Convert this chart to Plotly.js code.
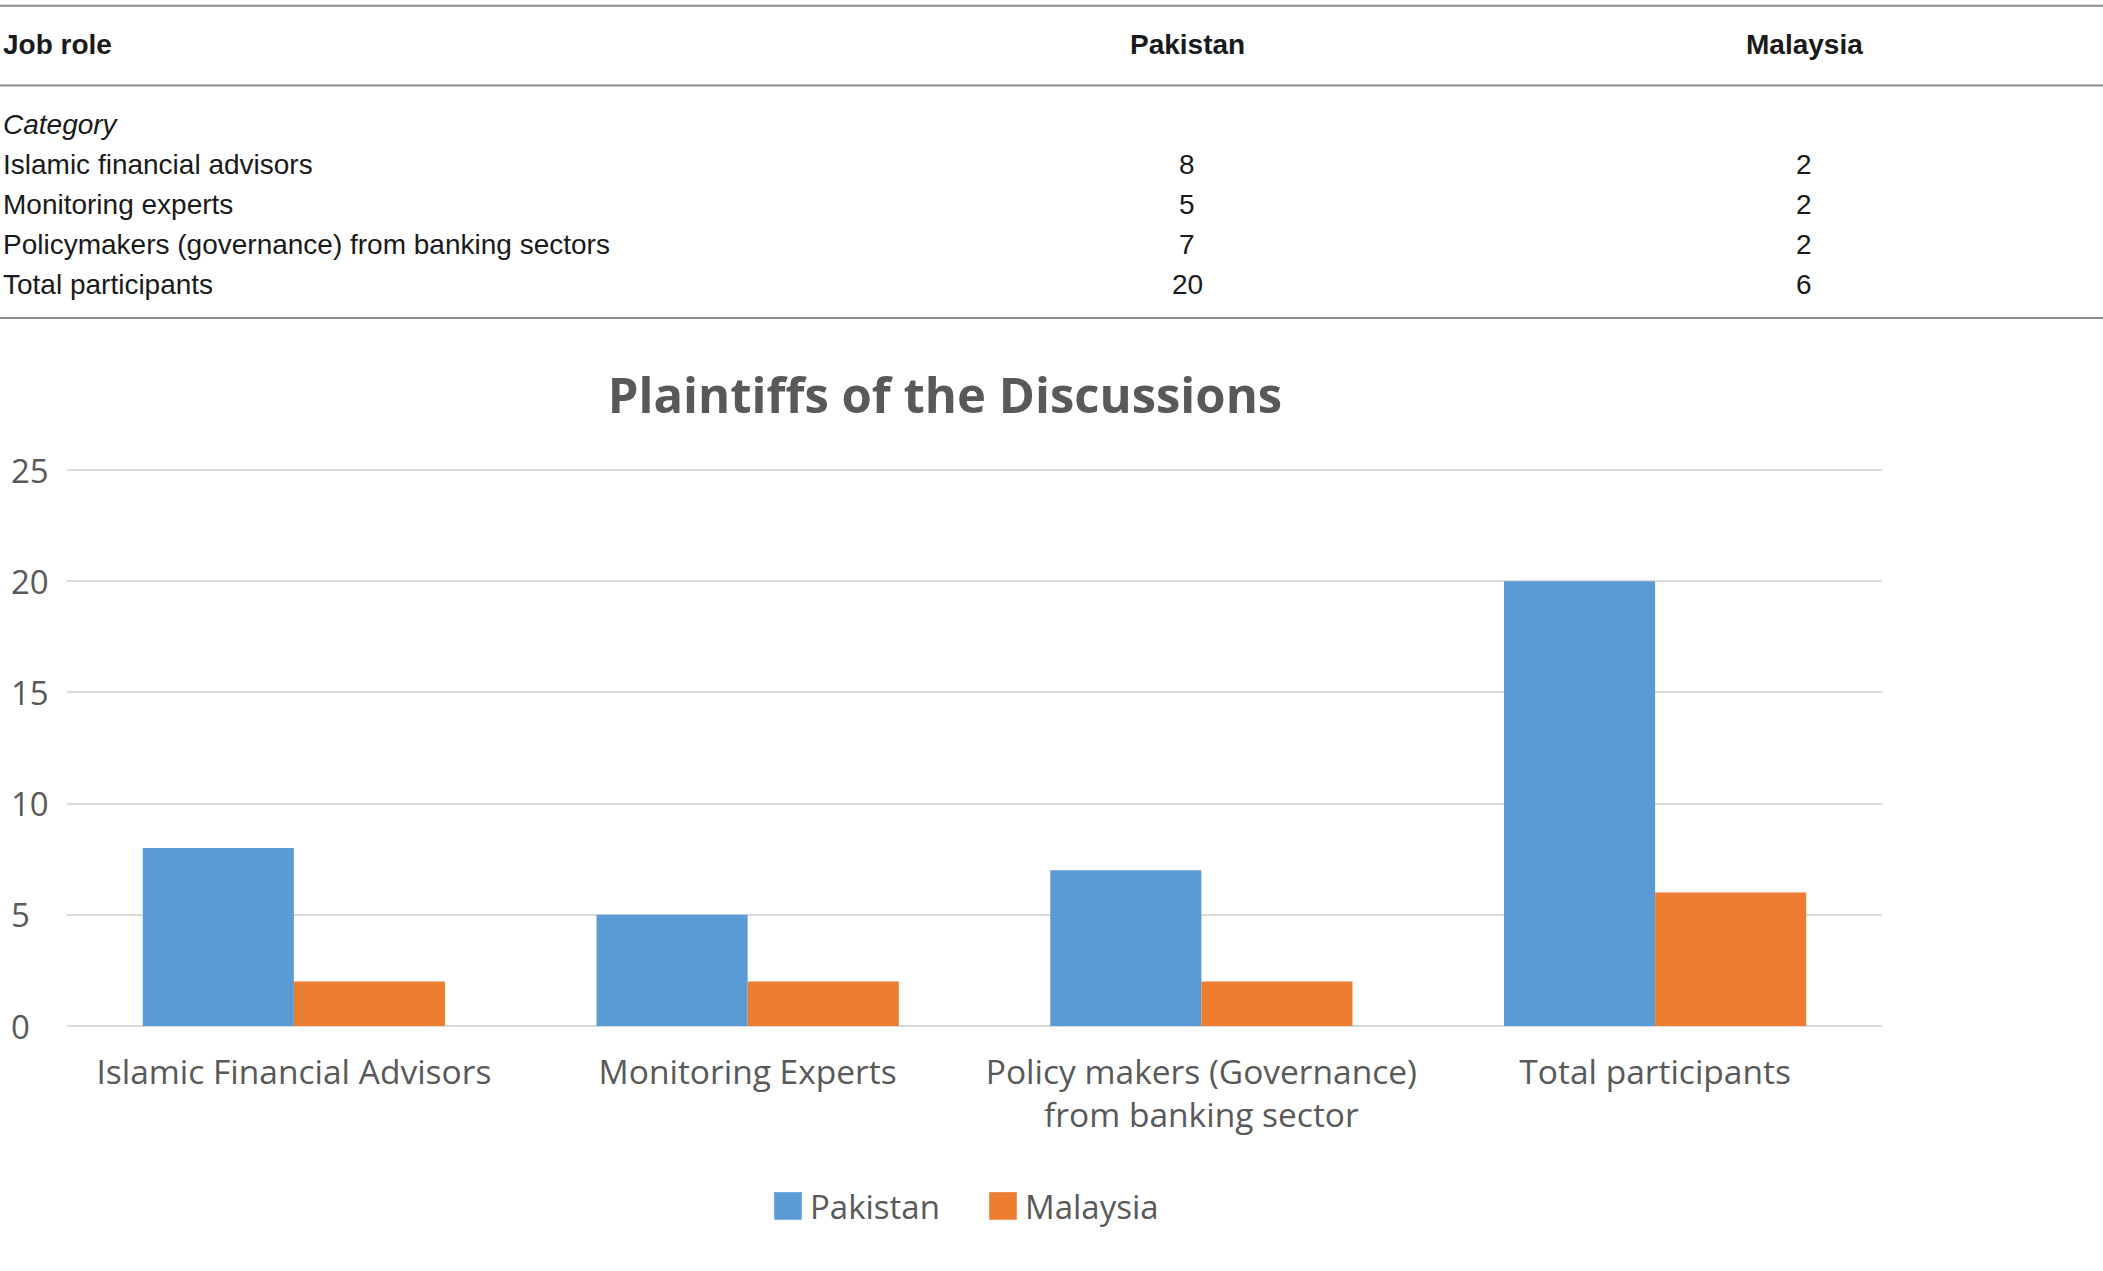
<!DOCTYPE html>
<html>
<head>
<meta charset="utf-8">
<script src="https://cdn.plot.ly/plotly-3.0.1.min.js"></script>
<style>
  body { margin: 0; background: #fff; }
  #chart { width: 2103px; height: 1271px; }
  /* bigger legend swatches, like the Excel legend */
  g.legendpoints path { transform: translate(18px, 0px) scale(2.3); }
</style>
</head>
<body>
<div id="chart"></div>
<script>
// table data
var columnHeaders = ['Job role', 'Pakistan', 'Malaysia'];
var tableGroup = 'Category';
var tableRoles = ['Islamic financial advisors', 'Monitoring experts',
  'Policymakers (governance) from banking sectors', 'Total participants'];

// chart data
var chartCategories = ['Islamic Financial Advisors', 'Monitoring Experts',
  'Policy makers (Governance)<br>from banking sector', 'Total participants'];
var pakistan = [8, 5, 7, 20];
var malaysia = [2, 2, 2, 6];
var yTicks = [0, 5, 10, 15, 20, 25];

var W = 2103, H = 1271;
var tableFont = 'Liberation Sans, Arial, sans-serif';
var chartFont = 'Open Sans, Noto Sans, sans-serif';
var grey = '#595959';

// column anchors (paper x) for the table
var colX = [0.0005, 1187 / W, 1804 / W];
var colAlign = ['left', 'center', 'center'];

var annotations = [];

function cell(text, col, row, bold) {
  annotations.push({
    text: bold ? '<b>' + text + '</b>' : text,
    xref: 'paper', yref: 'y2', x: colX[col], y: row,
    xanchor: colAlign[col], yanchor: 'middle', showarrow: false,
    font: {family: tableFont, size: 28, color: '#1a1a1a'}
  });
}

columnHeaders.forEach(function(h, i) { cell(h, i, 0, true); });
cell('<i>' + tableGroup + '</i>', 0, 2, false);
tableRoles.forEach(function(r, i) {
  cell(r, 0, 3 + i, false);
  cell(String(pakistan[i]), 1, 3 + i, false);
  cell(String(malaysia[i]), 2, 3 + i, false);
});

// y tick labels, left aligned as in the original
yTicks.forEach(function(t) {
  annotations.push({
    text: String(t), xref: 'paper', yref: 'y', x: 9 / W, y: t,
    xanchor: 'left', yanchor: 'middle', showarrow: false,
    font: {family: chartFont, size: 33, color: grey}
  });
});

var shapes = [-0.975, 1.02, 6.85].map(function(r) {
  return {type: 'line', xref: 'paper', yref: 'y2', x0: 0, x1: 1, y0: r, y1: r,
    line: {color: '#8c8c8c', width: 2}};
});

var data = [
  {type: 'bar', name: 'Pakistan', x: chartCategories, y: pakistan,
    marker: {color: '#5B9BD5'}, hoverinfo: 'y'},
  {type: 'bar', name: 'Malaysia', x: chartCategories, y: malaysia,
    marker: {color: '#ED7D31'}, hoverinfo: 'y'}
];

var layout = {
  width: W, height: H,
  margin: {l: 0, r: 0, t: 0, b: 0},
  paper_bgcolor: '#fff', plot_bgcolor: '#fff',
  font: {family: chartFont, color: grey},
  title: {
    text: '<b>Plaintiffs of the Discussions</b>',
    xref: 'container', yref: 'container', x: 945 / W, y: 1 - 396 / H,
    xanchor: 'center', yanchor: 'middle',
    font: {family: chartFont, size: 49, color: grey}
  },
  barmode: 'group', bargap: 0.334, bargroupgap: 0,
  xaxis: {
    domain: [67 / W, 1882 / W],
    tickfont: {family: chartFont, size: 33.5, color: grey},
    ticks: '', ticklabelstandoff: 23,
    showline: false, showgrid: false, fixedrange: true
  },
  yaxis: {
    domain: [245 / H, 802 / H], range: [0, 25.05],
    tickvals: yTicks, showticklabels: false, ticks: '',
    showgrid: true, gridcolor: '#d9d9d9', gridwidth: 2,
    zeroline: true, zerolinecolor: '#d9d9d9', zerolinewidth: 2,
    fixedrange: true
  },
  xaxis2: {domain: [0, 1], range: [0, 1], visible: false, anchor: 'y2', fixedrange: true},
  yaxis2: {domain: [1 - 330.46 / H, 1], range: [7.1615, -1.12], visible: false,
    anchor: 'x2', fixedrange: true},
  showlegend: true,
  legend: {
    orientation: 'h', x: 770 / W, y: 1 - 1206 / H,
    xanchor: 'left', yanchor: 'middle',
    font: {family: chartFont, size: 33, color: grey},
    itemwidth: 30, traceorder: 'normal',
    entrywidth: 170, entrywidthmode: 'pixels'
  },
  annotations: annotations,
  shapes: shapes
};

Plotly.newPlot('chart', data, layout, {displayModeBar: false, staticPlot: true});
</script>
</body>
</html>
